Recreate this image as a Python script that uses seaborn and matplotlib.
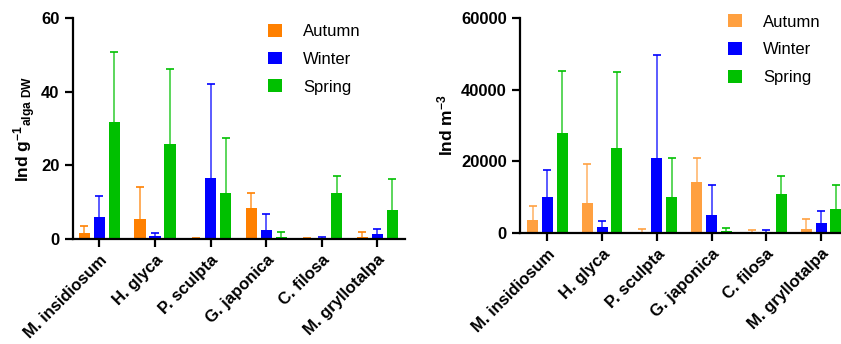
import pandas as pd
import matplotlib.pyplot as plt
import seaborn as sns


species = ['M. insidiosum', 'H. glyca', 'P. sculpta', 'G. japonica', 'C. filosa', 'M. gryllotalpa']
seasons = ['Autumn', 'Winter', 'Spring']

# Ind g-1 alga DW (mean and upper SD)
dw_autumn = [1.6, 5.3, 0.2, 8.4, 0.2, 0.5]
dw_winter = [6.1, 0.7, 16.5, 2.4, 0.1, 1.3]
dw_spring = [31.7, 25.7, 12.5, 0.6, 12.6, 8.0]
dw_autumn_sd = [2.0, 8.7, 0.2, 4.2, 0.2, 1.4]
dw_winter_sd = [5.7, 1.0, 25.6, 4.5, 0.4, 1.5]
dw_spring_sd = [19.0, 20.4, 14.9, 1.2, 4.6, 8.3]

# Ind m-3
m3_autumn = [3700, 8450, 300, 14200, 200, 1100]
m3_winter = [10000, 1670, 20800, 5000, 200, 2800]
m3_spring = [27860, 23680, 10000, 560, 10870, 6690]
m3_autumn_sd = [3700, 10670, 700, 6800, 700, 2700]
m3_winter_sd = [7550, 1670, 28800, 8370, 700, 3330]
m3_spring_sd = [17280, 21180, 11000, 740, 4910, 6680]


sns.set_style('ticks')
plt.rcParams['font.family'] = ['Liberation Sans', 'DejaVu Sans']
plt.rcParams['mathtext.fontset'] = 'custom'
plt.rcParams['mathtext.rm'] = 'Liberation Sans:bold'
plt.rcParams['mathtext.it'] = 'Liberation Sans:bold'
plt.rcParams['mathtext.bf'] = 'Liberation Sans:bold'
plt.rcParams['mathtext.default'] = 'rm'
plt.rcParams['text.color'] = 'black'
plt.rcParams['axes.labelcolor'] = 'black'
plt.rcParams['axes.edgecolor'] = 'black'
plt.rcParams['xtick.color'] = 'black'
plt.rcParams['ytick.color'] = 'black'


def make_df(a, w, s, a_sd, w_sd, s_sd):
    rows = []
    for season, vals, sds in zip(seasons, [a, w, s], [a_sd, w_sd, s_sd]):
        for sp, v, sd in zip(species, vals, sds):
            rows.append({'Species': sp, 'Season': season, 'value': v, 'sd': sd})
    return pd.DataFrame(rows)


def draw(ax, df, palette, ylabel, yticks, xlim, pad):
    sns.barplot(data=df, x='Species', y='value', hue='Season', palette=palette,
                width=0.81, gap=0.25, saturation=1, ax=ax, errorbar=None, linewidth=0)
    for season, cont in zip(seasons, ax.containers):
        sub = df[df['Season'] == season]
        xs = [p.get_x() + p.get_width() / 2 for p in cont.patches]
        tops = sub['value'] + sub['sd']
        # upper-only error bars with a cap
        ax.vlines(xs, sub['value'], tops, color=palette[season], lw=1.2, alpha=0.75, zorder=1)
        ax.plot(xs, tops, ls='none', marker='_', ms=6, mew=1.4, color=palette[season], alpha=0.85)
    ax.set_ylim(0, yticks[-1])
    ax.set_yticks(yticks)
    ax.set_xlim(*xlim)
    ax.set_xlabel('')
    ax.set_ylabel(ylabel, fontsize=12.5, fontweight='bold', labelpad=pad)
    for s in ['top', 'right']:
        ax.spines[s].set_visible(False)
    for s in ['left', 'bottom']:
        ax.spines[s].set_linewidth(1.6)
    ax.tick_params(width=1.6, length=6, labelsize=12)
    for lab in ax.get_yticklabels():
        lab.set_fontweight('bold')
    plt.setp(ax.get_xticklabels(), rotation=45, ha='right', rotation_mode='anchor',
             fontweight='bold')


fig = plt.figure(figsize=(8.41, 3.44), dpi=100)
ax1 = fig.add_axes([72.7 / 841, 105 / 344, 332 / 841, 221 / 344])
ax2 = fig.add_axes([520 / 841, 111 / 344, 323 / 841, 215 / 344])

pal1 = {'Autumn': '#ff8000', 'Winter': '#0000ff', 'Spring': '#00c000'}
pal2 = {'Autumn': '#ffa040', 'Winter': '#0000ff', 'Spring': '#00c000'}

draw(ax1, make_df(dw_autumn, dw_winter, dw_spring, dw_autumn_sd, dw_winter_sd, dw_spring_sd),
     pal1, 'Ind g$^{-1}$$_{alga\\ DW}$', [0, 20, 40, 60], (-0.48, 5.49), 2)
draw(ax2, make_df(m3_autumn, m3_winter, m3_spring, m3_autumn_sd, m3_winter_sd, m3_spring_sd),
     pal2, 'Ind m$^{-3}$', [0, 20000, 40000, 60000], (-0.5, 5.4), 4)

for ax, anchor in [(ax1, (0.319, 0.93)), (ax2, (0.866, 0.958))]:
    h, l = ax.get_legend_handles_labels()
    ax.legend(h[:3], l[:3], loc='upper left', bbox_to_anchor=anchor, bbox_transform=fig.transFigure,
              frameon=False, fontsize=12, handlelength=0.8, handleheight=0.8,
              handletextpad=1.3, labelspacing=0.75, borderpad=0, borderaxespad=0)

fig.savefig('out.png', dpi=100)
